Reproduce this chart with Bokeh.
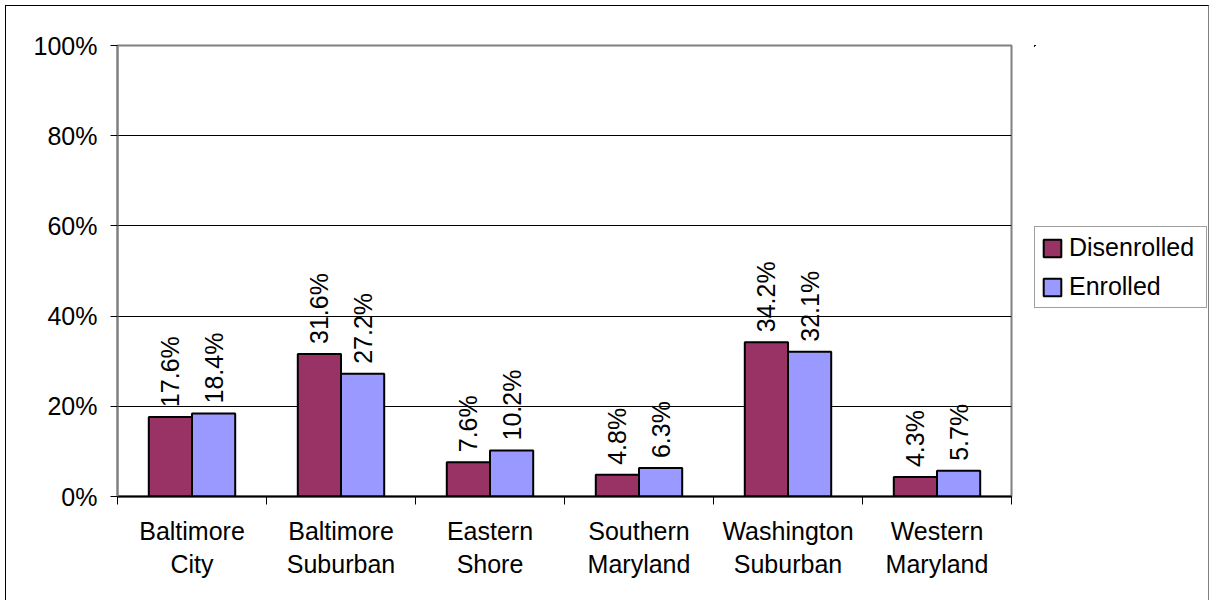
import math
from bokeh.plotting import figure
from bokeh.layouts import row
from bokeh.core.properties import value
from bokeh.models import (ColumnDataSource, Range1d, FixedTicker, NumeralTickFormatter,
                          LabelSet, Legend, LegendItem)
from bokeh.embed import file_html
from bokeh.resources import INLINE

categories = ["Baltimore\nCity", "Baltimore\nSuburban", "Eastern\nShore",
              "Southern\nMaryland", "Washington\nSuburban", "Western\nMaryland"]
disenrolled = [17.6, 31.6, 7.6, 4.8, 34.2, 4.3]
enrolled = [18.4, 27.2, 10.2, 6.3, 32.1, 5.7]
series_names = ["Disenrolled", "Enrolled"]
series_colors = ["#993366", "#9999FF"]
y_ticks = [0, 0.2, 0.4, 0.6, 0.8, 1.0]

FONT = "Liberation Sans"
FS = "25px"
W = 0.29

centers = [i + 0.5 for i in range(len(categories))]
src_d = ColumnDataSource(dict(
    x=[c - W / 2 for c in centers],
    top=[v / 100 for v in disenrolled],
    lab=[f"{v:.1f}%" for v in disenrolled]))
src_e = ColumnDataSource(dict(
    x=[c + W / 2 for c in centers],
    top=[v / 100 for v in enrolled],
    lab=[f"{v:.1f}%" for v in enrolled]))
sources = [src_d, src_e]

p = figure(width=1028, height=594, output_backend="svg", toolbar_location=None,
           x_range=Range1d(0, len(categories)), y_range=Range1d(0, 1),
           min_border_left=111, min_border_right=23, min_border_top=39,
           min_border_bottom=104)
p.background_fill_color = "white"
p.border_fill_color = "white"
p.outline_line_color = "#808080"
p.outline_line_width = 2

for src, color in zip(sources, series_colors):
    p.vbar(x="x", top="top", width=W, source=src, fill_color=color,
           line_color="black", line_width=2)
    p.add_layout(LabelSet(x="x", y="top", text="lab", source=src, angle=math.pi / 2,
                          text_align="left", text_baseline="middle", y_offset=10,
                          text_font=value(FONT), text_font_size=value(FS),
                          text_color="black"))

# x axis
xa = p.xaxis[0]
xa.ticker = FixedTicker(ticks=centers, minor_ticks=list(range(len(categories) + 1)))
xa.major_label_overrides = {c: lab for c, lab in zip(centers, categories)}
xa.major_tick_out = 0
xa.major_tick_in = 0
xa.minor_tick_out = 8
xa.minor_tick_in = 0
xa.minor_tick_line_color = "black"
xa.axis_line_color = "black"
xa.axis_line_width = 2
xa.major_label_text_font = FONT
xa.major_label_text_font_size = FS
xa.major_label_text_color = "black"
xa.major_label_standoff = 12

# y axis
ya = p.yaxis[0]
ya.ticker = FixedTicker(ticks=y_ticks, minor_ticks=[])
ya.formatter = NumeralTickFormatter(format="0%")
ya.major_tick_out = 7
ya.major_tick_in = 0
ya.major_tick_line_color = "black"
ya.axis_line_color = "#808080"
ya.axis_line_width = 2
ya.major_label_text_font = FONT
ya.major_label_text_font_size = FS
ya.major_label_text_color = "black"
ya.major_label_standoff = 13

p.xgrid.visible = False
p.ygrid.ticker = FixedTicker(ticks=[0.2, 0.4, 0.6, 0.8])
p.ygrid.grid_line_color = "black"
p.ygrid.grid_line_width = 1
p.ygrid.grid_line_alpha = 1

# legend panel to the right of the plot area (its bars lie far outside its view)
lg = figure(width=174, height=594, output_backend="svg", toolbar_location=None,
            min_border=0, x_axis_location=None, y_axis_location=None,
            x_range=Range1d(100, 101), y_range=Range1d(-200, -199))
lg.outline_line_color = None
lg.xgrid.visible = False
lg.ygrid.visible = False
lg.background_fill_color = "white"
lg.border_fill_color = "white"
items = []
for name, color, src in zip(series_names, series_colors, sources):
    r = lg.vbar(x="x", top="top", width=W, source=src,
                fill_color=color, line_color="black", line_width=2)
    items.append(LegendItem(label=name, renderers=[r]))
legend = Legend(items=items, location=(0, 188), orientation="vertical",
                label_text_font=FONT, label_text_font_size=FS,
                label_text_color="black",
                glyph_width=22, glyph_height=22, label_standoff=6,
                label_height=29, label_width=131,
                padding=6, spacing=10, margin=0,
                border_line_color="#404040", border_line_width=1,
                background_fill_color="white", background_fill_alpha=1)
lg.add_layout(legend, "center")

layout = row(p, lg, spacing=0)
layout.styles = {"margin-left": "5px", "margin-top": "5px",
                 "border-left": "1px solid #000000", "border-top": "1px solid #000000",
                 "border-right": "1px solid #808080"}

open("out.html", "w").write(file_html(layout, INLINE))
